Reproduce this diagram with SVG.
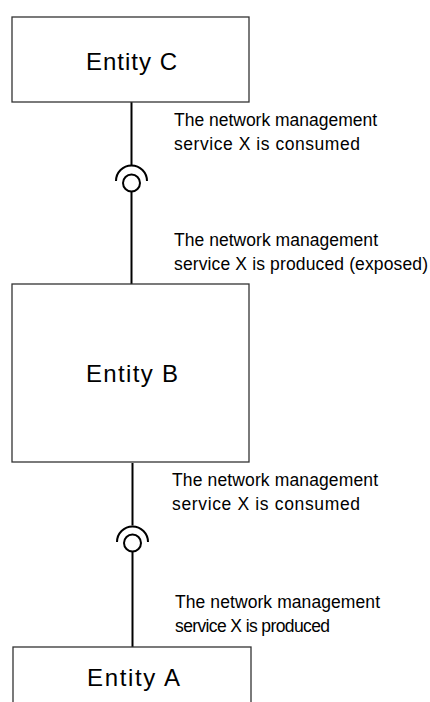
<svg xmlns="http://www.w3.org/2000/svg" width="430" height="702" viewBox="0 0 430 702">
<style>
.box{fill:#fff;stroke:#333;stroke-width:1.3}
.ent{font-family:"Liberation Sans",Arial,sans-serif;font-size:24px;fill:#000}
.lbl{font-family:"Liberation Sans",Arial,sans-serif;font-size:17.5px;fill:#000}
.ln{stroke:#000;stroke-width:2;fill:none}
</style>
<rect width="430" height="702" fill="#fff"/>
<g id="connectors">
<line class="ln" x1="131.5" y1="102" x2="131.5" y2="165"/>
<path class="ln" d="M116 181 A15.5 15.5 0 0 1 147 181"/>
<circle class="ln" cx="131.5" cy="183" r="8.5"/>
<line class="ln" x1="131.5" y1="191.5" x2="131.5" y2="284"/>
<line class="ln" x1="132.5" y1="463" x2="132.5" y2="525.5"/>
<path class="ln" d="M117 542 A15.5 15.5 0 0 1 148 542"/>
<circle class="ln" cx="132.5" cy="543" r="8.5"/>
<line class="ln" x1="132.5" y1="551.5" x2="132.5" y2="647"/>
</g>
<g id="entityC">
<rect class="box" x="12" y="17" width="237" height="85"/>
<text class="ent" x="86" y="69.5" textLength="91" lengthAdjust="spacing">Entity C</text>
</g>
<g id="entityB">
<rect class="box" x="12" y="284" width="237" height="178"/>
<text class="ent" x="86" y="382" textLength="92" lengthAdjust="spacing">Entity B</text>
</g>
<g id="entityA">
<rect class="box" x="13" y="647" width="238" height="70"/>
<text class="ent" x="87" y="686" textLength="93" lengthAdjust="spacing">Entity A</text>
</g>
<g id="label1">
<text class="lbl" x="174" y="126" textLength="203" lengthAdjust="spacing">The network management</text>
<text class="lbl" x="174" y="149.5" textLength="186" lengthAdjust="spacing">service X is consumed</text>
</g>
<g id="label2">
<text class="lbl" x="174" y="246" textLength="204" lengthAdjust="spacing">The network management</text>
<text class="lbl" x="174" y="269.5" textLength="254" lengthAdjust="spacing">service X is produced (exposed)</text>
</g>
<g id="label3">
<text class="lbl" x="172" y="486" textLength="206" lengthAdjust="spacing">The network management</text>
<text class="lbl" x="172" y="509.5" textLength="188" lengthAdjust="spacing">service X is consumed</text>
</g>
<g id="label4">
<text class="lbl" x="175" y="608" textLength="205" lengthAdjust="spacing">The network management</text>
<text class="lbl" x="175" y="631.5" textLength="155" lengthAdjust="spacing">service X is produced</text>
</g>
</svg>
